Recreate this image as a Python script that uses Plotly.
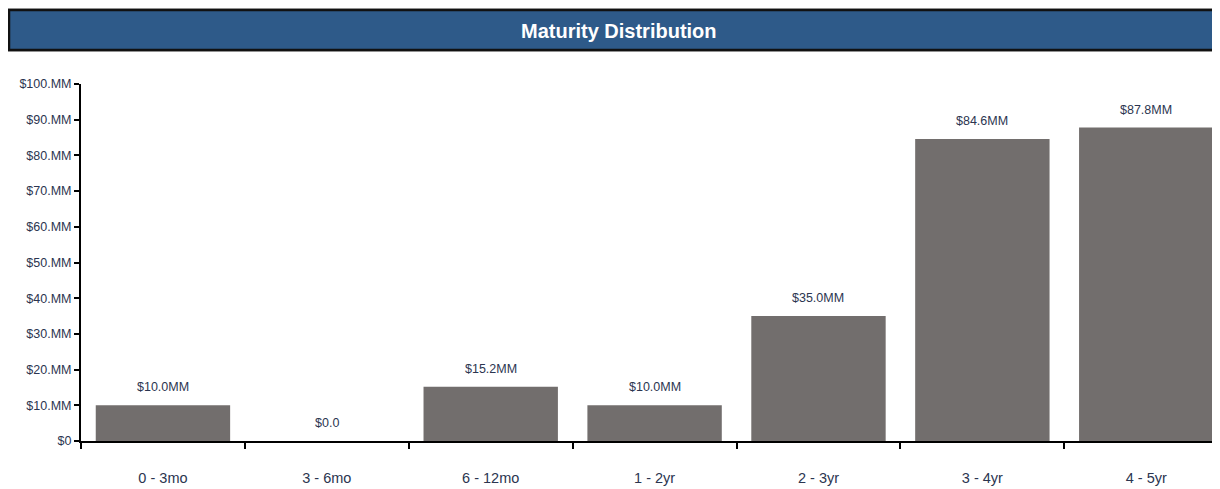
import plotly.graph_objects as go

categories = ["0 - 3mo", "3 - 6mo", "6 - 12mo", "1 - 2yr", "2 - 3yr", "3 - 4yr", "4 - 5yr"]
values = [10.0, 0.0, 15.2, 10.0, 35.0, 84.6, 87.8]
bar_labels = ["$10.0MM", "$0.0", "$15.2MM", "$10.0MM", "$35.0MM", "$84.6MM", "$87.8MM"]
y_tick_vals = [0, 10, 20, 30, 40, 50, 60, 70, 80, 90, 100]
y_tick_text = ["$0", "$10.MM", "$20.MM", "$30.MM", "$40.MM", "$50.MM",
               "$60.MM", "$70.MM", "$80.MM", "$90.MM", "$100.MM"]
title_text = "Maturity Distribution"

# page has an 8px body margin; figure sized so it ends at the window edge
OFF = 8
W, H = 1220 - OFF, 489 - OFF
ml, mr, mt, mb = 81 - OFF, 0, 84 - OFF, 48
pw = W - ml - mr
ph = H - mt - mb

def px_to_paper_x(px):  # px in screen coordinates
    return (px - OFF - ml) / pw

def px_to_paper_y(py):
    return (H - mb - (py - OFF)) / ph

font_main = "Liberation Sans, Arial, sans-serif"
txt_color = "#2B3550"

fig = go.Figure()
fig.add_trace(go.Bar(
    x=categories, y=values,
    marker=dict(color="#726E6D", line=dict(width=0)),
    hoverinfo="x+y",
))

annotations = [
    dict(x=c, y=v, text=t, xref="x", yref="y", showarrow=False,
         yanchor="bottom", yshift=9,
         font=dict(family=font_main, size=12.5, color=txt_color))
    for c, v, t in zip(categories, values, bar_labels)
]
annotations.append(
    dict(text="<b>" + title_text + "</b>", xref="paper", yref="paper",
         x=px_to_paper_x(619), y=px_to_paper_y(31), xanchor="center", yanchor="middle",
         showarrow=False, font=dict(family=font_main, size=20, color="white"))
)

fig.update_layout(
    width=W, height=H,
    margin=dict(l=ml, r=mr, t=mt, b=mb, autoexpand=False),
    paper_bgcolor="white", plot_bgcolor="white",
    bargap=0.18,
    showlegend=False,
    xaxis=dict(
        range=[-0.5, 6.45], showline=True, linecolor="black", linewidth=2,
        ticks="outside", tickson="boundaries", ticklen=6, tickwidth=2, tickcolor="black",
        tickfont=dict(family=font_main, size=14.5, color=txt_color),
        ticklabelstandoff=23, showgrid=False, zeroline=False, automargin=False,
    ),
    yaxis=dict(
        range=[0, 100], showline=True, linecolor="black", linewidth=2,
        ticks="outside", ticklen=5, tickwidth=2, tickcolor="black",
        tickvals=y_tick_vals, ticktext=y_tick_text,
        tickfont=dict(family=font_main, size=12.5, color=txt_color),
        showgrid=False, zeroline=False, automargin=False,
    ),
    shapes=[
        dict(type="rect", xref="paper", yref="paper",
             x0=px_to_paper_x(OFF), x1=px_to_paper_x(1224),
             y0=px_to_paper_y(52), y1=px_to_paper_y(8),
             fillcolor="#BDBDBD", line=dict(width=0), layer="above"),
        dict(type="rect", xref="paper", yref="paper",
             x0=px_to_paper_x(OFF + 1), x1=px_to_paper_x(1224),
             y0=px_to_paper_y(50), y1=px_to_paper_y(10),
             fillcolor="#2E5A89", line=dict(color="#111111", width=2.5), layer="above"),
    ],
    annotations=annotations,
)

fig.write_html("out.html")
